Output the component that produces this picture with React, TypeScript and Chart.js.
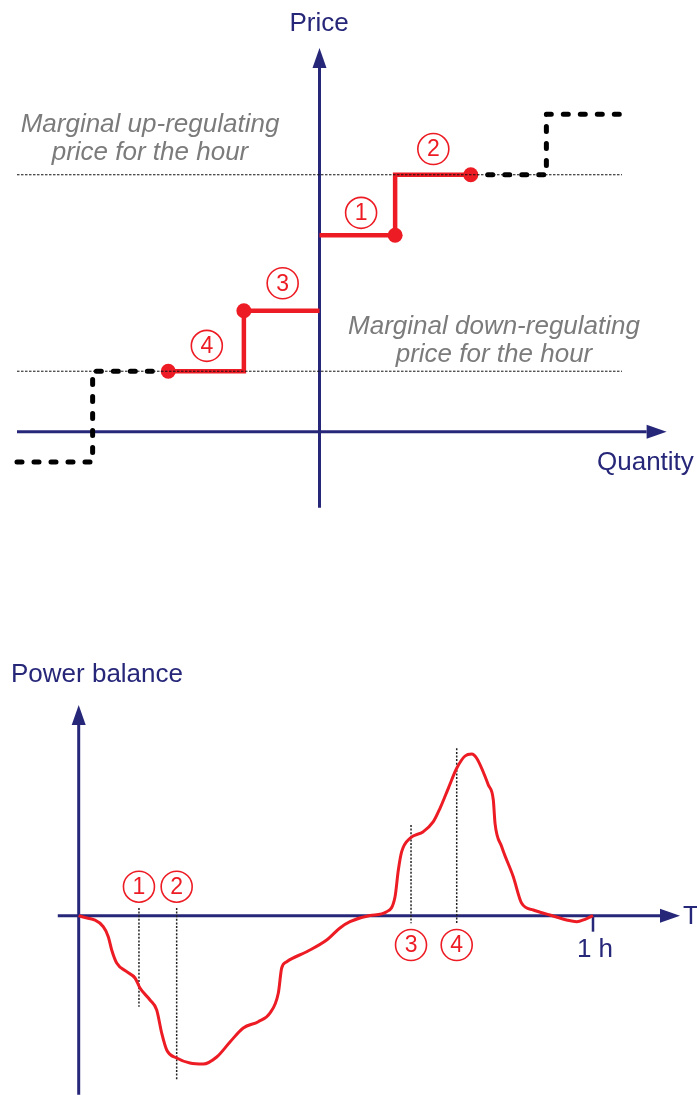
import React, { useEffect, useRef } from "react";
import { Chart, registerables } from "chart.js";

Chart.register(...registerables);

const NAVY = "#27277a";
const RED = "#ed1c24";
const GRAY_TEXT = "#7b7b7b";
const FONT = '"Liberation Sans", Arial, sans-serif';

// ---------- Top chart: price vs quantity (bid ladder) ----------
const blackDownQty = [-4, -3, -3, -2];
const blackDownPrice = [-1, -1, 2, 2];
const blackUpQty = [2, 3, 3, 4.05];
const blackUpPrice = [8.5, 8.5, 10.5, 10.5];
const redDownQty = [-2, -1, -1, 0];
const redDownPrice = [2, 2, 4, 4];
const redUpQty = [0, 1, 1, 2];
const redUpPrice = [6.5, 6.5, 8.5, 8.5];
const dotQty = [-2, -1, 1, 2];
const dotPrice = [2, 4, 6.5, 8.5];
const marginalPrices = [8.5, 2];
const marginalQtyRange = [-4, 4];
const stepLabels = ["1", "2", "3", "4"];
const stepLabelQty = [0.55, 1.505, -0.487, -1.49];
const stepLabelPrice = [7.24, 9.35, 4.91, 2.84];

// ---------- Bottom chart: power balance over one hour ----------
const timeMin = [
  0, 2.87, 3.45, 3.85, 4.43, 5.6, 6.57, 7.15, 8.32, 9.1, 9.68, 10.27, 11.43, 12.98, 14.54,
  16.1, 17.65, 19.2, 20.95, 22.32, 23.29, 23.68, 24.27, 26.6, 28.93, 30.48, 31.65, 33.98,
  35.93, 36.9, 37.29, 37.68, 38.65, 40.2, 41.37, 42.15, 43.12, 44.1, 45.07, 45.85, 46.43,
  47.79, 48.37, 48.57, 49.35, 50.7, 51.68, 53.04, 54.98, 56.93, 58.1, 59.07, 60,
];
const balance = [
  0, -1.1, -2.1, -3.43, -4.73, -5.6, -6.23, -7.23, -8.43, -9.43, -11.73, -13.43, -14.23,
  -14.73, -14.83, -14.13, -12.63, -11.23, -10.6, -9.73, -7.73, -5.23, -4.6, -3.6, -2.43,
  -1.23, -0.6, 0.02, 0.4, 1.87, 4.57, 6.4, 7.74, 8.4, 9.4, 10.74, 12.74, 14.74, 15.97,
  16.17, 15.74, 13.07, 11.57, 9.24, 6.9, 3.9, 1.24, 0.57, 0.07, -0.43, -0.6, -0.36, 0,
];
const markerT = [7.03, 11.43, 38.77, 44.1];
const markerTop = [0.77, 0.77, 9.07, 16.74];
const markerBottom = [-9.1, -16.4, -0.76, -0.76];
const markerLabels = ["1", "2", "3", "4"];
const markerLabelV = [2.9, 2.9, -2.93, -2.93];
const hourTick = 60;

const pts = (xs: number[], ys: number[]) => xs.map((x, i) => ({ x, y: ys[i] }));

function drawArrow(ctx: CanvasRenderingContext2D, x1: number, y1: number, x2: number, y2: number, lw: number) {
  const ang = Math.atan2(y2 - y1, x2 - x1);
  const L = 20;
  const H = 7;
  const bx = x2 - L * Math.cos(ang);
  const by = y2 - L * Math.sin(ang);
  ctx.save();
  ctx.setLineDash([]);
  ctx.strokeStyle = NAVY;
  ctx.fillStyle = NAVY;
  ctx.lineWidth = lw;
  ctx.lineCap = "butt";
  ctx.beginPath();
  ctx.moveTo(x1, y1);
  ctx.lineTo(bx, by);
  ctx.stroke();
  ctx.beginPath();
  ctx.moveTo(x2, y2);
  ctx.lineTo(bx + H * Math.sin(ang), by - H * Math.cos(ang));
  ctx.lineTo(bx - H * Math.sin(ang), by + H * Math.cos(ang));
  ctx.closePath();
  ctx.fill();
  ctx.restore();
}

function drawCircled(ctx: CanvasRenderingContext2D, x: number, y: number, label: string) {
  ctx.save();
  ctx.setLineDash([]);
  ctx.strokeStyle = RED;
  ctx.lineWidth = 1.6;
  ctx.beginPath();
  ctx.arc(x, y, 15.5, 0, Math.PI * 2);
  ctx.stroke();
  ctx.fillStyle = RED;
  ctx.font = `23px ${FONT}`;
  ctx.textAlign = "center";
  ctx.textBaseline = "middle";
  ctx.fillText(label, x, y + 1);
  ctx.restore();
}

function text(ctx: CanvasRenderingContext2D, s: string, x: number, y: number, font: string, color: string, align: CanvasTextAlign) {
  ctx.save();
  ctx.font = font;
  ctx.fillStyle = color;
  ctx.textAlign = align;
  ctx.textBaseline = "alphabetic";
  ctx.fillText(s, x, y);
  ctx.restore();
}

const baseOptions = {
  responsive: false,
  animation: false as const,
  events: [] as any[],
  plugins: { legend: { display: false }, tooltip: { enabled: false } },
};

function TopChart() {
  const ref = useRef<HTMLCanvasElement>(null);
  useEffect(() => {
    const axisPlugin = {
      id: "topAxes",
      beforeDatasetsDraw(chart: any) {
        const { ctx, scales } = chart;
        const xs = scales.x;
        const ys = scales.y;
        drawArrow(ctx, xs.getPixelForValue(0), ys.getPixelForValue(-2.52), xs.getPixelForValue(0), ys.getPixelForValue(12.69), 3);
        drawArrow(ctx, xs.getPixelForValue(-4), ys.getPixelForValue(0), xs.getPixelForValue(4.59), ys.getPixelForValue(0), 3);
      },
      afterDatasetsDraw(chart: any) {
        const { ctx, scales } = chart;
        const xs = scales.x;
        const ys = scales.y;
        stepLabels.forEach((l, i) =>
          drawCircled(ctx, xs.getPixelForValue(stepLabelQty[i]), ys.getPixelForValue(stepLabelPrice[i]), l)
        );
        text(ctx, "Price", 319, 31, `26px ${FONT}`, NAVY, "center");
        text(ctx, "Quantity", 597, 470, `26px ${FONT}`, NAVY, "left");
        const it = `italic 26px ${FONT}`;
        text(ctx, "Marginal up-regulating", 150, 132, it, GRAY_TEXT, "center");
        text(ctx, "price for the hour", 150, 160, it, GRAY_TEXT, "center");
        text(ctx, "Marginal down-regulating", 494, 333.5, it, GRAY_TEXT, "center");
        text(ctx, "price for the hour", 494, 361.5, it, GRAY_TEXT, "center");
      },
    };
    const black = {
      borderColor: "#000",
      borderWidth: 5,
      borderDash: [5, 12],
      borderCapStyle: "round",
      borderJoinStyle: "round",
      pointRadius: 0,
      order: 3,
      clip: false,
    };
    const red = {
      borderColor: RED,
      borderWidth: 4.5,
      borderJoinStyle: "miter",
      pointRadius: 0,
      order: 2,
      clip: false,
    };
    const chart = new Chart(ref.current!, {
      type: "line",
      data: {
        datasets: [
          ...marginalPrices.map((p) => ({
            data: pts(marginalQtyRange, [p, p]),
            borderColor: "#111",
            borderWidth: 1,
            borderDash: [2.5, 1.5],
            pointRadius: 0,
            order: 0,
            clip: false,
          })),
          { data: pts(dotQty, dotPrice), showLine: false, pointRadius: 7.5, pointBackgroundColor: RED, pointBorderWidth: 0, borderColor: RED, order: 1, clip: false },
          { ...red, data: pts(redDownQty, redDownPrice) },
          { ...red, data: pts(redUpQty, redUpPrice) },
          { ...black, data: pts(blackDownQty, blackDownPrice) },
          { ...black, data: pts(blackUpQty, blackUpPrice) },
        ] as any,
      },
      options: {
        ...baseOptions,
        layout: { padding: { left: 17, right: 75, top: 114.3, bottom: 58.1 } },
        scales: {
          x: { type: "linear", min: -4, max: 4, display: false },
          y: { type: "linear", min: -1, max: 10.5, display: false },
        },
      } as any,
      plugins: [axisPlugin],
    });
    return () => chart.destroy();
  }, []);
  return <canvas ref={ref} width={697} height={520} style={{ position: "absolute", left: 0, top: 0, display: "block" }} />;
}

function BottomChart() {
  const ref = useRef<HTMLCanvasElement>(null);
  useEffect(() => {
    const axisPlugin = {
      id: "bottomAxes",
      beforeDatasetsDraw(chart: any) {
        const { ctx, scales } = chart;
        const xs = scales.x;
        const ys = scales.y;
        drawArrow(ctx, xs.getPixelForValue(0), ys.getPixelForValue(-17.9), xs.getPixelForValue(0), ys.getPixelForValue(21.07), 3);
        drawArrow(ctx, xs.getPixelForValue(-2.44), ys.getPixelForValue(0), xs.getPixelForValue(70.15), ys.getPixelForValue(0), 3);
        ctx.save();
        ctx.strokeStyle = NAVY;
        ctx.lineWidth = 2.5;
        ctx.beginPath();
        ctx.moveTo(xs.getPixelForValue(hourTick), ys.getPixelForValue(0));
        ctx.lineTo(xs.getPixelForValue(hourTick), ys.getPixelForValue(-1.6));
        ctx.stroke();
        ctx.restore();
      },
      afterDatasetsDraw(chart: any) {
        const { ctx, scales } = chart;
        const xs = scales.x;
        const ys = scales.y;
        markerLabels.forEach((l, i) =>
          drawCircled(ctx, xs.getPixelForValue(markerT[i]), ys.getPixelForValue(markerLabelV[i]), l)
        );
        text(ctx, "Power balance", 11, 41.7, `26px ${FONT}`, NAVY, "left");
        text(ctx, "T", 683, 283.6, `26px ${FONT}`, NAVY, "left");
        text(ctx, "1 h", xs.getPixelForValue(hourTick) + 2, 317, `26px ${FONT}`, NAVY, "center");
      },
    };
    const chart = new Chart(ref.current!, {
      type: "line",
      data: {
        datasets: [
          {
            data: pts(timeMin, balance),
            borderColor: RED,
            borderWidth: 3,
            cubicInterpolationMode: "monotone",
            pointRadius: 0,
            order: 0,
            clip: false,
          },
          ...markerT.map((t, i) => ({
            data: pts([t, t], [markerTop[i], markerBottom[i]]),
            borderColor: "#222",
            borderWidth: 1.5,
            borderDash: [2, 1.6],
            pointRadius: 0,
            order: 1,
            clip: false,
          })),
        ] as any,
      },
      options: {
        ...baseOptions,
        layout: { padding: { left: 78.7, right: 104, top: 105.7, bottom: 29.3 } },
        scales: {
          x: { type: "linear", min: 0, max: 60, display: false },
          y: { type: "linear", min: -15, max: 17, display: false },
        },
      } as any,
      plugins: [axisPlugin],
    });
    return () => chart.destroy();
  }, []);
  return <canvas ref={ref} width={697} height={455} style={{ position: "absolute", left: 0, top: 640, display: "block" }} />;
}

export default function App() {
  return (
    <div style={{ position: "absolute", left: 0, top: 0, width: 697, height: 1095, overflow: "hidden", background: "#fff" }}>
      <TopChart />
      <BottomChart />
    </div>
  );
}
